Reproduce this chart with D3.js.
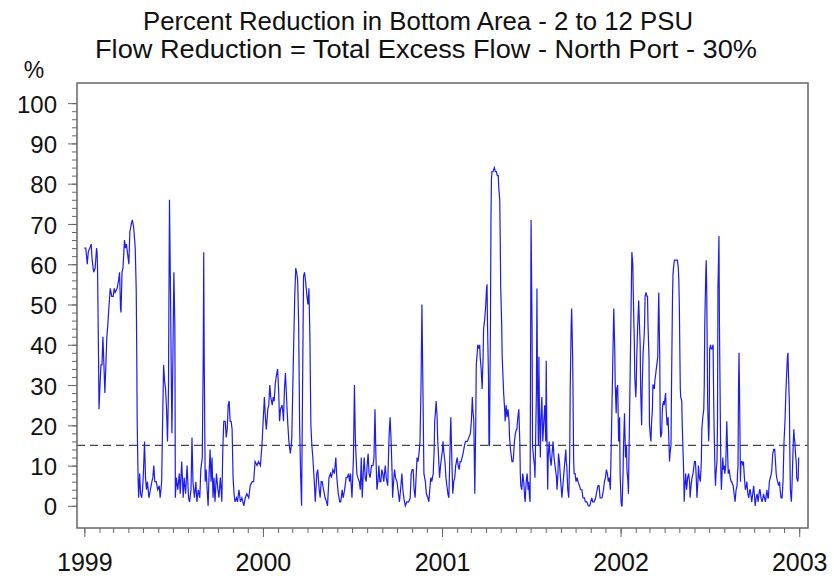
<!DOCTYPE html>
<html>
<head>
<meta charset="utf-8">
<script src="https://cdn.jsdelivr.net/npm/d3@7"></script>
<style>
  body { margin: 0; background: #fff; }
  text { font-family: "Liberation Sans", Arial, sans-serif; fill: #111; }
</style>
</head>
<body>
<script>
// chart text
var titleLines = ["Percent Reduction in Bottom Area - 2 to 12 PSU",
                  "Flow Reduction = Total Excess Flow - North Port - 30%"];
var unitLabel = "%";
var yearTicks = [1999, 2000, 2001, 2002, 2003];
var pctTicks = [0, 10, 20, 30, 40, 50, 60, 70, 80, 90, 100];
var threshold = 15;

// [days since 1 Jan 1999, percent reduction]
var pts1999 = [[0,64],[3,64],[6,60],[8,63],[11,64],[14,65],[16,61],[19,58],[22,59],[25,64],[26,63],[27,59],[29,37],[30,24],[32,30],[34,35],[36,35],[38,42],[40,35],[42,28],[44,35],[46,42],[48,45],[50,49],[53,54],[56,52],[59,52],[61,54],[63,53],[67,54],[70,56],[72,58],[74,49],[75,48],[77,58],[79,59],[82,66],[84,64],[86,65],[89,62],[91,60],[93,68],[96,70],[98,71],[101,69],[104,64],[106,54],[107,40],[108,21],[110,6],[111,2],[113,8],[115,3],[117,2],[119,4],[121,9],[123,16],[125,7],[127,4],[129,6],[132,2],[135,4],[138,6],[140,7],[142,10],[144,6],[147,6],[150,4],[153,5],[155,2],[158,6],[160,21],[162,35],[164,31],[166,29],[168,24],[170,16],[172,29],[173,54],[174,76],[176,54],[178,29],[179,18],[181,37],[183,58],[185,45],[186,2],[188,7],[191,4],[194,8],[196,3],[199,11],[202,2],[204,7],[207,3],[210,10],[213,2],[215,1],[218,4],[220,17],[222,6],[225,2],[228,6],[230,1],[233,4],[236,2],[238,9],[241,12],[243,37],[244,63],[245,37],[247,6],[249,9],[251,4],[253,0],[255,8],[257,14],[259,6],[261,12],[263,2],[265,7],[267,1],[270,8],[273,4],[275,2],[278,7],[281,1],[283,14],[285,21],[288,21],[290,17],[292,19],[294,25],[296,26],[298,21],[300,21],[302,19],[304,7],[306,3],[308,1],[311,2],[313,1],[316,4],[319,1],[322,2],[326,0],[329,2],[332,3],[336,2],[339,5],[343,6],[346,6],[349,11],[353,10],[356,11],[360,10]];
var pts2000 = [[361,12],[363,15],[365,20],[368,27],[370,22],[372,19],[375,24],[377,25],[379,30],[381,27],[384,25],[386,27],[388,26],[390,30],[392,32],[395,34],[397,29],[399,21],[401,24],[404,25],[406,23],[407,21],[409,29],[411,33],[414,25],[416,20],[418,16],[421,13],[423,15],[424,17],[426,29],[428,41],[430,52],[432,59],[434,58],[436,56],[438,45],[440,20],[442,8],[444,0],[446,29],[448,57],[450,58],[452,56],[455,52],[457,50],[459,54],[461,42],[463,20],[465,15],[467,12],[470,6],[472,1],[475,8],[477,9],[480,4],[482,2],[484,6],[486,6],[489,4],[492,2],[495,1],[497,0],[500,7],[503,8],[505,7],[508,9],[511,8],[514,12],[516,7],[519,3],[522,1],[524,1],[527,4],[529,2],[532,4],[535,7],[537,7],[540,8],[542,6],[544,8],[547,2],[550,12],[552,30],[554,16],[557,8],[559,7],[562,6],[564,4],[566,12],[568,2],[570,8],[572,12],[574,7],[576,6],[578,10],[580,13],[582,8],[584,7],[587,10],[590,10],[592,12],[594,24],[596,12],[598,4],[600,6],[602,10],[604,6],[606,6],[608,9],[610,8],[612,6],[615,10],[617,7],[620,5],[622,14],[623,18],[625,22],[627,16],[629,8],[630,2],[632,6],[634,9],[636,7],[639,6],[642,3],[644,1],[647,5],[649,8],[651,4],[653,2],[656,0],[659,1],[663,1],[666,2],[668,8],[670,9],[672,9],[674,4],[676,2],[678,7],[680,12],[682,11],[684,13],[686,16]];
var pts2001 = [[688,29],[690,50],[692,29],[694,8],[697,6],[699,3],[702,2],[704,1],[706,4],[708,7],[710,6],[713,8],[715,14],[716,21],[718,24],[719,26],[721,22],[722,17],[724,12],[726,7],[728,10],[730,12],[732,14],[733,16],[735,13],[737,11],[739,7],[741,5],[743,3],[745,2],[747,12],[748,18],[749,22],[751,12],[753,3],[755,6],[757,7],[759,10],[762,12],[764,10],[766,9],[768,11],[770,11],[772,12],[774,13],[777,15],[779,16],[781,16],[783,16],[786,17],[789,18],[791,21],[793,27],[794,24],[796,21],[797,12],[798,3],[800,21],[801,35],[803,38],[804,40],[807,39],[808,40],[809,37],[811,34],[813,29],[815,37],[816,44],[818,46],[820,49],[822,54],[823,55],[824,45],[826,32],[827,15],[828,15],[830,45],[831,70],[832,81],[833,83],[835,83],[838,84],[840,83],[842,83],[844,82],[846,82],[847,79],[849,76],[850,66],[851,54],[853,45],[854,37],[856,31],[857,28],[859,24],[860,21],[862,25],[864,22],[865,23],[866,24],[868,21],[869,17],[871,14],[873,12],[874,11],[876,11],[877,12],[879,16],[881,18],[883,19],[884,19],[886,22],[888,24],[890,16],[891,8],[892,5],[894,4],[896,8],[898,6],[900,2],[901,1],[903,6],[905,8],[907,4],[908,6],[910,2],[911,1],[912,37],[913,71],[915,45],[916,15],[918,12],[920,10],[921,7],[922,14],[924,29],[925,54],[926,33],[928,15],[929,37],[930,25],[932,12],[933,21],[935,27],[936,21],[937,16],[939,21],[941,25],[943,16],[944,36],[945,21],[947,4],[948,12],[950,16],[952,12],[954,10],[956,13],[958,16],[960,12],[962,10],[965,7],[966,4],[968,8],[969,13],[971,11],[973,7],[975,4],[976,2],[978,5],[980,8],[982,11],[984,14],[985,11],[986,10],[988,4],[990,2],[992,12],[993,29],[995,45],[996,49],[998,37],[1000,12],[1001,8],[1003,8],[1005,6],[1007,7],[1009,6],[1012,5],[1014,4],[1017,4],[1019,2],[1022,2],[1024,1],[1027,1],[1030,0],[1033,0],[1035,1],[1037,2],[1039,1],[1042,1],[1045,2],[1048,4],[1050,5],[1052,5],[1054,2],[1056,2],[1058,2],[1061,4],[1063,6],[1065,7],[1067,9],[1069,8],[1071,6],[1073,7],[1075,4]];
var pts2002 = [[1077,16],[1079,29],[1082,49],[1084,39],[1085,30],[1087,23],[1088,29],[1090,30],[1092,16],[1094,22],[1095,8],[1097,1],[1098,0],[1099,0],[1101,8],[1102,15],[1104,23],[1106,12],[1108,15],[1109,9],[1111,6],[1112,3],[1114,20],[1116,37],[1118,54],[1119,63],[1121,60],[1122,52],[1124,41],[1125,32],[1127,27],[1128,30],[1129,37],[1131,45],[1133,51],[1134,47],[1136,40],[1137,29],[1139,20],[1140,29],[1142,38],[1144,42],[1145,45],[1146,52],[1148,53],[1150,52],[1151,52],[1152,45],[1154,37],[1155,20],[1157,17],[1158,16],[1159,20],[1161,24],[1162,30],[1163,30],[1165,29],[1166,31],[1167,32],[1169,34],[1170,35],[1172,37],[1173,47],[1174,53],[1176,37],[1177,20],[1178,17],[1180,18],[1181,23],[1182,25],[1184,26],[1185,25],[1187,27],[1188,28],[1189,24],[1191,20],[1192,21],[1193,22],[1195,15],[1196,11],[1197,13],[1199,15],[1200,29],[1202,51],[1203,57],[1204,59],[1206,61],[1208,61],[1210,61],[1211,61],[1212,61],[1214,59],[1215,56],[1216,50],[1218,29],[1219,27],[1221,26],[1222,20],[1223,16],[1225,8],[1226,1],[1227,4],[1229,8],[1230,6],[1231,4],[1233,7],[1235,8],[1237,6],[1238,2],[1240,5],[1242,7],[1244,8],[1245,9],[1247,11],[1249,11],[1251,6],[1252,2],[1254,6],[1255,10],[1257,7],[1259,6],[1261,11],[1262,19],[1264,22],[1266,24],[1267,30],[1268,45],[1270,57],[1271,61],[1272,54],[1273,39],[1274,25],[1276,16],[1277,20],[1278,39],[1280,40],[1281,39],[1283,39],[1285,40],[1286,29],[1287,20],[1289,8],[1290,5],[1291,8],[1293,11],[1294,20],[1295,54],[1297,67],[1298,45],[1300,20],[1301,8],[1302,4],[1304,10],[1305,12],[1306,9],[1308,10],[1309,8],[1311,10],[1312,16],[1313,21],[1315,12],[1316,8],[1318,9],[1320,7],[1322,6],[1323,6],[1326,5],[1327,4],[1329,2],[1330,1],[1332,4],[1334,5],[1335,8],[1336,10],[1337,29],[1338,38],[1339,29],[1341,6],[1342,11],[1344,11],[1346,10],[1347,11],[1349,7],[1351,4],[1353,5],[1354,6],[1356,3],[1358,2],[1360,4],[1361,4],[1363,2],[1364,1],[1366,3],[1368,5],[1370,2],[1371,0],[1373,2],[1375,3],[1377,1],[1378,2],[1380,4],[1381,4],[1383,2],[1385,1],[1387,2],[1388,3],[1390,2],[1392,1],[1394,3],[1395,4],[1397,2],[1398,2],[1400,6],[1402,7],[1404,8],[1405,9],[1407,13],[1409,14],[1411,14],[1412,12],[1414,8],[1415,7],[1417,6],[1419,5],[1421,6],[1422,4],[1424,2],[1426,2],[1428,6],[1429,11],[1430,16],[1432,21],[1434,29],[1437,37],[1438,38],[1439,33],[1441,25],[1442,12],[1443,4],[1445,1],[1446,4],[1447,8],[1449,16],[1450,19],[1451,17],[1452,16],[1454,12],[1455,11],[1456,7],[1458,6],[1459,7],[1460,12]];

var series = pts1999.concat(pts2000, pts2001, pts2002);
var start = new Date(Date.UTC(1999, 0, 1));

var svg = d3.select("body").append("svg")
  .attr("width", 834)
  .attr("height", 576);

var plotLeft = 77, plotRight = 808, plotTop = 83, plotBottom = 528;

var x = d3.scaleUtc()
  .domain([new Date(Date.UTC(1998, 11, 17)), new Date(Date.UTC(2003, 0, 19))])
  .range([plotLeft, plotRight]);
var y = d3.scaleLinear()
  .domain([-5.5, 105])
  .range([plotBottom, plotTop]);

// titles (the two lines are set to the widths seen in the reference)
var titleWidths = [550, 662];
var titleCenters = [418, 426];
svg.selectAll("text.title")
  .data(titleLines)
  .enter()
  .append("text")
  .attr("class", "title")
  .attr("x", function(d, i) { return titleCenters[i]; })
  .attr("y", function(d, i) { return 30 + i * 28; })
  .attr("text-anchor", "middle")
  .attr("textLength", function(d, i) { return titleWidths[i]; })
  .attr("lengthAdjust", "spacingAndGlyphs")
  .style("font-size", "25px")
  .text(function(d) { return d; });

svg.append("text")
  .attr("x", 34)
  .attr("y", 78)
  .attr("text-anchor", "middle")
  .style("font-size", "23px")
  .text(unitLabel);

// y axis, minor then major
svg.append("g")
  .attr("transform", "translate(" + plotLeft + ",0)")
  .call(d3.axisLeft(y).tickValues(d3.range(0, 101, 2)).tickSize(5).tickFormat(""))
  .call(function(g) { g.select(".domain").remove(); g.selectAll("line").attr("stroke", "#666"); });

svg.append("g")
  .attr("transform", "translate(" + plotLeft + ",0)")
  .call(d3.axisLeft(y).tickValues(pctTicks).tickSize(9).tickPadding(11))
  .call(function(g) {
    g.select(".domain").remove();
    g.selectAll("line").attr("stroke", "#666");
    g.selectAll("text").style("font-size", "24px").attr("dy", "0.38em")
      .style("font-family", "'Liberation Sans', Arial, sans-serif").attr("fill", "#111");
  });

// x axis, monthly minor ticks then years
svg.append("g")
  .attr("transform", "translate(0," + plotBottom + ")")
  .call(d3.axisBottom(x)
    .tickValues(d3.utcMonth.range(new Date(Date.UTC(1999, 0, 1)), new Date(Date.UTC(2003, 0, 2))))
    .tickSize(5).tickFormat(""))
  .call(function(g) { g.select(".domain").remove(); g.selectAll("line").attr("stroke", "#666"); });

svg.append("g")
  .attr("transform", "translate(0," + plotBottom + ")")
  .call(d3.axisBottom(x)
    .tickValues(yearTicks.map(function(yr) { return new Date(Date.UTC(yr, 0, 1)); }))
    .tickFormat(d3.utcFormat("%Y"))
    .tickSize(9).tickPadding(16))
  .call(function(g) {
    g.select(".domain").remove();
    g.selectAll("line").attr("stroke", "#666");
    g.selectAll("text").style("font-size", "25px")
      .style("font-family", "'Liberation Sans', Arial, sans-serif").attr("fill", "#111");
  });

// threshold
svg.append("line")
  .attr("x1", plotLeft).attr("x2", plotRight)
  .attr("y1", y(threshold)).attr("y2", y(threshold))
  .attr("stroke", "#444")
  .attr("stroke-width", 1.3)
  .attr("stroke-dasharray", "8,5");

// series
var line = d3.line()
  .x(function(d) { return x(d3.utcDay.offset(start, d[0])); })
  .y(function(d) { return y(d[1]); });

svg.append("path")
  .datum(series)
  .attr("d", line)
  .attr("fill", "none")
  .attr("stroke", "#1c1cf0")
  .attr("stroke-width", 1.2);

// frame
svg.append("rect")
  .attr("x", plotLeft).attr("y", plotTop)
  .attr("width", plotRight - plotLeft).attr("height", plotBottom - plotTop)
  .attr("fill", "none")
  .attr("stroke", "#666")
  .attr("stroke-width", 1.5);
</script>
</body>
</html>
